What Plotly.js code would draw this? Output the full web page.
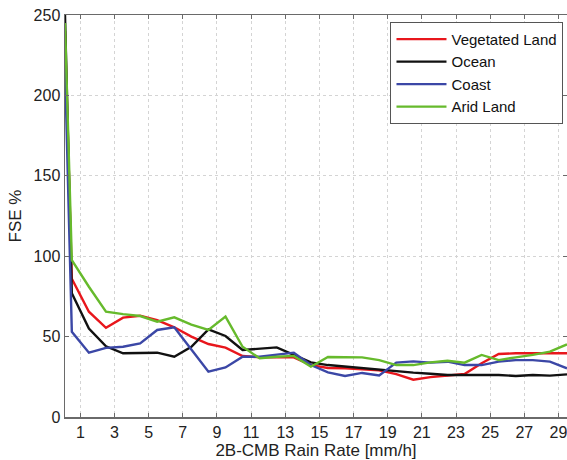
<!DOCTYPE html>
<html>
<head>
<meta charset="utf-8">
<script src="https://cdn.plot.ly/plotly-3.0.1.min.js"></script>
<style>
  html, body { margin: 0; padding: 0; background: #fff; }
  #chart { width: 567px; height: 460px; }
</style>
</head>
<body>
<div id="chart"></div>
<script>
// Rain-rate bins (mm/h): first bin near zero, then bin centres 0.5 ... 29.5
const rainRate = [0.1, 0.5, 1.5, 2.5, 3.5, 4.5, 5.5, 6.5, 7.5, 8.5, 9.5,
  10.5, 11.5, 12.5, 13.5, 14.5, 15.5, 16.5, 17.5, 18.5, 19.5,
  20.5, 21.5, 22.5, 23.5, 24.5, 25.5, 26.5, 27.5, 28.5, 29.5];

// Fractional standard error (%) per surface type
const vegetatedLand = [240, 86, 65.5, 55.5, 61.8, 63, 60.3, 55.8, 50, 45.4, 43.1,
  37.9, 37.1, 37.1, 37.1, 32.3, 30.5, 30.3, 29.6, 29, 26.7,
  23.2, 24.8, 25.9, 26.7, 33.4, 39.2, 39.6, 39.6, 40, 39.6];
const ocean = [250, 77, 55, 44, 39.6, 39.6, 40, 37.5, 43.7, 54.5, 50.4,
  41.7, 42.7, 43.3, 38.6, 34, 32.3, 31.3, 30.5, 29.6, 28.6,
  27.6, 26.9, 26.1, 26.1, 26.1, 26.1, 25.5, 26.1, 25.7, 26.5];
const coast = [218, 53, 40, 43, 43.7, 45.8, 54.1, 55.8, 42, 28.2, 30.8,
  37.5, 37.5, 38.6, 40, 32.3, 27.8, 25.5, 27.4, 25.8, 33.8,
  34.6, 33.8, 34.4, 32.3, 32.3, 34.4, 35.4, 35.4, 34.4, 30.3];
const aridLand = [245, 97.6, 81, 65.5, 64, 62.8, 59.3, 62, 57.5, 54.2, 62.4,
  43.7, 36.5, 37.5, 38, 31.3, 37.3, 37.3, 37.1, 35.4, 32.3,
  32.3, 34, 35, 33.8, 38.6, 35.4, 37.1, 38.6, 40.6, 45.2];

const seriesNames = ['Vegetated Land', 'Ocean', 'Coast', 'Arid Land'];
const seriesValues = [vegetatedLand, ocean, coast, aridLand];
const seriesColors = ['#e8161c', '#111111', '#3b47a6', '#66ba2c'];

const xTickVals = [1, 3, 5, 7, 9, 11, 13, 15, 17, 19, 21, 23, 25, 27, 29];
const yTickVals = [0, 50, 100, 150, 200, 250];

const FONT = 'Liberation Sans, Arial, sans-serif';

const traces = seriesNames.map((name, i) => ({
  type: 'scatter',
  mode: 'lines',
  name: name,
  x: rainRate,
  y: seriesValues[i],
  line: { color: seriesColors[i], width: 2.4 },
  cliponaxis: true
}));

const axisCommon = {
  showline: true,
  linecolor: '#6a6a6a',
  linewidth: 1.5,
  mirror: 'ticks',
  ticks: 'inside',
  ticklen: 4,
  tickcolor: '#6a6a6a',
  showgrid: true,
  gridcolor: '#d4d4d4',
  griddash: 'dot',
  gridwidth: 1,
  zeroline: false,
  ticklabeloverflow: 'allow',
  tickfont: { family: FONT, size: 16, color: '#222' }
};

const layout = {
  width: 567,
  height: 460,
  margin: { l: 65, r: 0, t: 15, b: 43 },
  paper_bgcolor: '#fff',
  plot_bgcolor: '#fff',
  font: { family: FONT, size: 16, color: '#222' },
  showlegend: true,
  legend: {
    x: 0.993, y: 0.983, xanchor: 'right', yanchor: 'top',
    bgcolor: '#fff',
    bordercolor: '#555',
    borderwidth: 1,
    itemwidth: 50,
    font: { family: FONT, size: 15, color: '#111' },
    tracegroupgap: 0
  },
  xaxis: Object.assign({}, axisCommon, {
    range: [0.1, 29.5],
    tickvals: xTickVals,
    ticktext: xTickVals.map(String),
    title: { text: '2B-CMB Rain Rate [mm/h]', standoff: 2,
             font: { family: FONT, size: 17, color: '#222' } }
  }),
  yaxis: Object.assign({}, axisCommon, {
    range: [0, 250],
    tickvals: yTickVals,
    ticktext: yTickVals.map(String),
    title: { text: 'FSE %', standoff: 7,
             font: { family: FONT, size: 17, color: '#222' } }
  })
};

Plotly.newPlot('chart', traces, layout, { displayModeBar: false, staticPlot: true });
</script>
</body>
</html>
